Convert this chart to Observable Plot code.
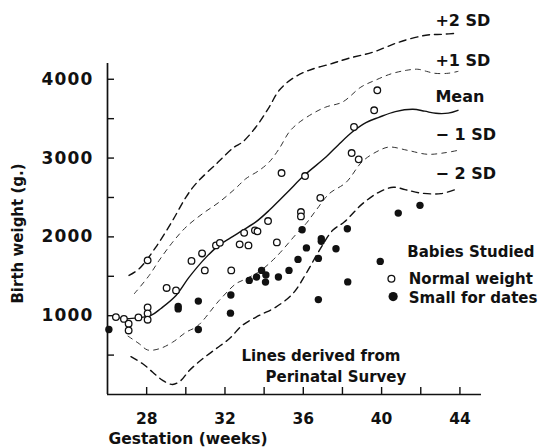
<!DOCTYPE html>
<html><head><meta charset="utf-8">
<script src="https://cdn.jsdelivr.net/npm/d3@7"></script>
<script src="https://cdn.jsdelivr.net/npm/@observablehq/plot@0.6"></script>
<style>body{margin:0;background:#fff}</style>
</head><body><div id="chart"></div>
<script>
// ---- data: [gestation week, birth weight g] ----
const plus2SD = [[27.1,1511],[27.62,1596],[28.47,1870],[29.33,2210],[30.01,2505],[30.52,2676],[31.64,2946],[32.46,3137],[32.9,3204],[33.58,3394],[34.26,3648],[34.77,3860],[35.47,4013],[36.29,4114],[37.51,4203],[38.33,4267],[39.55,4343],[40.88,4470],[42.26,4559],[43.13,4571],[43.9,4584]];
const plus1SD = [[27.37,1279],[28.13,1511],[28.64,1702],[29.33,1934],[30.01,2124],[30.86,2295],[31.71,2442],[32.56,2620],[33.07,2739],[33.75,2844],[34.26,2950],[34.77,3120],[35.28,3331],[35.71,3437],[36.48,3565],[37.16,3648],[38.01,3712],[38.94,3900],[39.7,3990],[40.5,4070],[41.3,4115],[41.85,4127],[42.3,4100],[42.7,4076],[43.4,4076],[43.9,4100]];
const meanLine = [[26.5,978],[26.95,962],[27.6,975],[28.22,1003],[28.73,1092],[29.5,1257],[30.16,1486],[31.03,1740],[31.69,1892],[32.3,1990],[32.9,2083],[33.58,2190],[34.26,2337],[34.77,2463],[35.28,2590],[36.05,2781],[37.16,3013],[37.8,3170],[38.5,3330],[39.2,3450],[39.86,3517],[40.7,3590],[41.6,3619],[42.2,3595],[42.77,3568],[43.4,3570],[43.9,3606]];
const minus1SD = [[27.05,740],[27.62,644],[28.05,565],[28.64,580],[29.33,664],[30.01,790],[30.6,870],[31.71,1194],[32.56,1406],[32.9,1448],[33.75,1560],[34.6,1743],[35.62,2030],[36.14,2168],[36.65,2337],[37.33,2549],[38.18,2690],[39.03,2960],[39.9,3100],[40.4,3140],[41.33,3098],[42.35,3048],[43.3,3070],[43.9,3098]];
const minus2SD = [[27.2,480],[27.8,390],[28.31,283],[28.82,178],[29.33,127],[29.75,178],[30.18,305],[30.86,453],[31.54,580],[32.22,707],[32.9,880],[33.75,1003],[34.6,1109],[35.46,1279],[36.14,1533],[36.82,1829],[37.5,2083],[38.09,2188],[39.03,2422],[39.88,2569],[40.6,2630],[41.2,2600],[42.01,2556],[43.03,2549],[43.9,2612]];

const normalWeight = [[26.43,982],[26.84,959],[27.08,898],[27.08,813],[27.58,978],[28.05,1702],[28.05,1105],[28.05,1029],[28.05,949],[29.02,1352],[29.5,1321],[30.29,1695],[30.83,1790],[30.97,1575],[31.54,1892],[31.74,1924],[32.32,1575],[32.75,1905],[32.98,2051],[33.2,1892],[33.53,2083],[33.66,2070],[34.2,2201],[34.65,1930],[35.88,2315],[35.88,2260],[36.87,2495],[34.89,2810],[36.09,2772],[38.47,3064],[38.83,2984],[38.59,3394],[39.62,3606],[39.78,3860]];
const smallForDates = [[26.07,825],[29.61,1117],[29.61,1086],[30.64,1185],[30.64,825],[32.3,1263],[32.28,1032],[33.24,1448],[33.61,1490],[33.87,1575],[34.09,1517],[34.07,1426],[34.73,1490],[35.27,1575],[35.73,1714],[35.94,2090],[36.16,1860],[36.77,1727],[36.77,1204],[36.92,1977],[36.92,1943],[37.67,1850],[38.25,2104],[38.27,1429],[39.93,1689],[40.85,2302],[41.96,2400]];

const xTicks = [28,30,32,34,36,38,40,42,44];
const xTickLabels = [28,32,36,40,44];
const yTicks = [500,1000,1500,2000,2500,3000,3500,4000];
const yTickLabels = [1000,2000,3000,4000];

const lineLabels = ["+2 SD","+1 SD","Mean","\u2212 1 SD","\u2212 2 SD"];
const legendTitle = "Babies Studied";
const legendItems = ["Normal weight","Small for dates"];
const noteLines = ["Lines derived from","Perinatal Survey"];
const xTitle = "Gestation (weeks)";
const yTitle = "Birth weight (g.)";

// ---- layout (annotation anchors in data units) ----
const axisExtentX = [26, 45.1];
const axisExtentY = [0, 4200];
const lineLabelX = 42.75;
const lineLabelY = [4747, 4239, 3774, 3288, 2802];
const legendTextX = 41.39, legendTitleX = 41.31, legendTitleY = 1803;
const legendTextY = [1466, 1228];
const legendMarkX = [40.5, 40.59], legendMarkY = [1468, 1243];
const noteX = [32.84, 34.07], noteY = [492, 217];

const rows = a => a.map(([week, grams]) => ({week, grams}));
const ink = "#111";
const F = "DejaVu Sans, sans-serif";

const chart = Plot.plot({
  width: 543, height: 448,
  marginLeft: 107, marginRight: 64, marginTop: 63, marginBottom: 54,
  x: {domain: [26, 45]},
  y: {domain: [0, 4200]},
  style: {fontFamily: F, fontWeight: "bold", background: "#fff", color: ink, overflow: "visible"},
  marks: [
    Plot.ruleX([axisExtentX[0]], {y1: axisExtentY[0], y2: axisExtentY[1], stroke: ink, strokeWidth: 1.7}),
    Plot.ruleY([axisExtentY[0]], {x1: axisExtentX[0], x2: axisExtentX[1], stroke: ink, strokeWidth: 1.7}),
    Plot.axisX({ticks: xTicks, tickSize: -7, fill: "none", stroke: ink, strokeWidth: 1.4, label: null}),
    Plot.axisY({ticks: yTicks, tickSize: -7, fill: "none", stroke: ink, strokeWidth: 1.4, label: null}),
    Plot.axisX({ticks: xTickLabels, tickSize: 0, tickPadding: 18, fontSize: 15.5, fontWeight: "bold", fill: ink, label: null}),
    Plot.axisY({ticks: yTickLabels, tickSize: 0, tickPadding: 14, fontSize: 17, fontWeight: "bold", fill: ink, label: null, tickFormat: d3.format("d")}),

    Plot.line(rows(plus2SD), {x: "week", y: "grams", curve: "catmull-rom", stroke: ink, strokeWidth: 1.4, strokeDasharray: "7,5"}),
    Plot.line(rows(plus1SD), {x: "week", y: "grams", curve: "catmull-rom", stroke: "#333", strokeWidth: 1, strokeDasharray: "5,5"}),
    Plot.line(rows(meanLine), {x: "week", y: "grams", curve: "catmull-rom", stroke: ink, strokeWidth: 1.4}),
    Plot.line(rows(minus1SD), {x: "week", y: "grams", curve: "catmull-rom", stroke: "#333", strokeWidth: 1, strokeDasharray: "5,5"}),
    Plot.line(rows(minus2SD), {x: "week", y: "grams", curve: "catmull-rom", stroke: ink, strokeWidth: 1.4, strokeDasharray: "7,5"}),

    Plot.dot(rows(normalWeight), {x: "week", y: "grams", r: 3.3, stroke: ink, strokeWidth: 1.3, fill: "#fff"}),
    Plot.dot(rows(smallForDates), {x: "week", y: "grams", r: 3.7, stroke: "none", fill: ink}),

    Plot.text(lineLabels, {x: () => lineLabelX, y: (d, i) => lineLabelY[i], text: d => d, textAnchor: "start", fontSize: 16, fontWeight: "bold", fill: ink}),

    Plot.text([legendTitle], {x: () => legendTitleX, y: () => legendTitleY, text: d => d, textAnchor: "start", fontSize: 15, fontWeight: "bold", fill: ink}),
    Plot.text(legendItems, {x: () => legendTextX, y: (d, i) => legendTextY[i], text: d => d, textAnchor: "start", fontSize: 15, fontWeight: "bold", fill: ink}),
    Plot.dot([0], {x: () => legendMarkX[0], y: () => legendMarkY[0], r: 3.4, stroke: ink, strokeWidth: 1.3, fill: "#fff"}),
    Plot.dot([1], {x: () => legendMarkX[1], y: () => legendMarkY[1], r: 4.6, stroke: "none", fill: ink}),

    Plot.text(noteLines, {x: (d, i) => noteX[i], y: (d, i) => noteY[i], text: d => d, textAnchor: "start", fontSize: 15, fontWeight: "bold", fill: ink}),

    Plot.text([xTitle], {frameAnchor: "bottom-left", dx: 1, dy: 44.5, lineAnchor: "middle", text: d => d, textAnchor: "start", fontSize: 15.5, fontWeight: "bold", fill: ink}),
    Plot.text([yTitle], {frameAnchor: "left", dx: -89.5, dy: 4.5, rotate: -90, lineAnchor: "middle", text: d => d, textAnchor: "middle", fontSize: 15, fontWeight: "bold", fill: ink})
  ]
});
chart.querySelectorAll('g[aria-label="y-axis tick label"] text').forEach(t => t.setAttribute("letter-spacing", "1.2"));
document.getElementById("chart").appendChild(chart);
</script>
</body></html>
